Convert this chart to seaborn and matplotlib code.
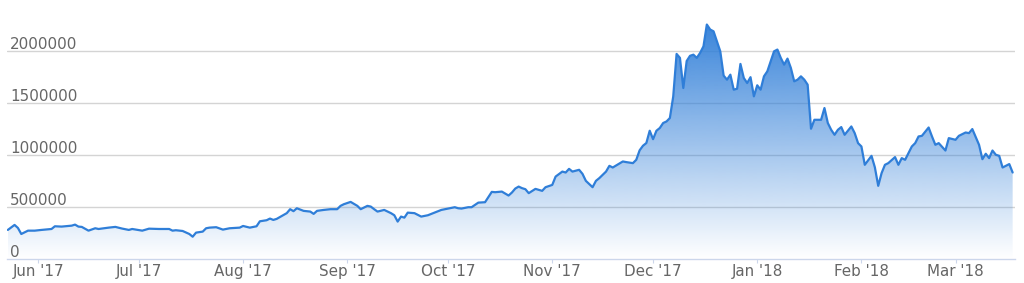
import numpy as np
import pandas as pd
import matplotlib
matplotlib.use("Agg")
import matplotlib.pyplot as plt
import matplotlib.dates as mdates
import matplotlib.transforms as mtransforms
from matplotlib.colors import to_rgb
import seaborn as sns

# ---------------- data ----------------
start_date = "2017-06-01"
day_offsets = [
    -9, -7, -6, -5, -3, -1, 1, 4, 5, 7, 10, 11, 12, 13, 15, 17, 18, 21, 23, 25,
    27, 28, 31, 33, 36, 39, 40, 41, 43, 45, 46, 47, 49, 50, 51, 53, 55, 57, 60, 61,
    63, 65, 66, 68, 69, 70, 71, 74, 75, 76, 77, 79, 81, 82, 83, 85, 87, 89, 90, 91,
    93, 94, 95, 96, 98, 99, 100, 101, 103, 105, 106, 107, 108, 109, 110, 112, 114, 116, 118, 120,
    122, 124, 125, 126, 128, 129, 131, 133, 135, 136, 138, 140, 141, 142, 143, 144, 145, 146, 148, 150,
    151, 153, 154, 156, 157, 158, 159, 161, 162, 163, 165, 166, 167, 169, 170, 171, 172, 174, 175, 177,
    178, 179, 180, 181, 182, 183, 184, 185, 186, 187, 188, 189, 190, 191, 192, 193, 194, 195, 196, 197,
    198, 199, 200, 201, 202, 203, 204, 205, 206, 207, 208, 209, 210, 211, 212, 213, 214, 215, 216, 217,
    219, 220, 221, 222, 223, 224, 225, 226, 227, 228, 229, 230, 231, 233, 234, 235, 236, 237, 238, 239,
    240, 242, 243, 244, 245, 246, 248, 249, 250, 251, 252, 253, 255, 256, 257, 258, 260, 261, 262, 263,
    265, 266, 267, 268, 270, 271, 273, 274, 276, 277, 278, 280, 281, 282, 283, 284, 285, 286, 287, 289,
    290,
]
prices = [
    279000, 327000, 298000, 240000, 272000, 272000, 279000, 288000, 314000, 311000,
    320000, 330000, 311000, 308000, 272000, 295000, 288000, 301000, 308000, 292000,
    279000, 288000, 272000, 291000, 288000, 288000, 272000, 276000, 269000, 240000,
    214000, 253000, 263000, 295000, 301000, 305000, 282000, 295000, 301000, 317000,
    301000, 314000, 362000, 372000, 388000, 375000, 385000, 440000, 478000, 459000,
    487000, 462000, 455000, 433000, 462000, 471000, 478000, 478000, 510000, 526000,
    548000, 529000, 510000, 478000, 510000, 503000, 478000, 455000, 471000, 440000,
    420000, 359000, 407000, 397000, 445000, 440000, 407000, 420000, 445000, 471000,
    484000, 497000, 487000, 484000, 497000, 497000, 541000, 545000, 644000, 641000,
    647000, 609000, 638000, 676000, 695000, 680000, 670000, 632000, 673000, 654000,
    689000, 711000, 791000, 839000, 830000, 865000, 839000, 856000, 817000, 750000,
    689000, 750000, 776000, 839000, 894000, 878000, 897000, 936000, 930000, 920000,
    952000, 1043000, 1087000, 1113000, 1231000, 1150000, 1231000, 1257000, 1305000, 1320000,
    1353000, 1560000, 1968000, 1930000, 1641000, 1900000, 1950000, 1961000, 1930000, 1978000,
    2041000, 2250000, 2202000, 2185000, 2089000, 1993000, 1760000, 1721000, 1769000, 1625000,
    1634000, 1872000, 1737000, 1689000, 1745000, 1561000, 1667000, 1625000, 1753000, 1801000,
    1993000, 2010000, 1930000, 1865000, 1923000, 1834000, 1705000, 1721000, 1753000, 1721000,
    1673000, 1250000, 1336000, 1336000, 1449000, 1305000, 1240000, 1192000, 1240000, 1266000,
    1192000, 1272000, 1208000, 1112000, 1080000, 904000, 990000, 880000, 702000, 824000,
    904000, 920000, 978000, 904000, 968000, 952000, 1080000, 1112000, 1176000, 1182000,
    1262000, 1176000, 1096000, 1112000, 1041000, 1160000, 1144000, 1182000, 1214000, 1208000,
    1247000, 1096000, 958000, 1010000, 968000, 1041000, 1000000, 990000, 878000, 911000,
    830000,
]
month_ticks = ["2017-06-01", "2017-07-01", "2017-08-01", "2017-09-01", "2017-10-01",
               "2017-11-01", "2017-12-01", "2018-01-01", "2018-02-01", "2018-03-01"]
month_labels = ["Jun '17", "Jul '17", "Aug '17", "Sep '17", "Oct '17",
                "Nov '17", "Dec '17", "Jan '18", "Feb '18", "Mar '18"]
y_ticks = [0, 500000, 1000000, 1500000, 2000000]
y_labels = ["0", "500000", "1000000", "1500000", "2000000"]

# ---------------- styling ----------------
line_color = "#2f7ed8"
grid_color = "#d4d4d4"
axis_color = "#ccd6eb"
text_color = "#666666"

sns.set_style("white")
plt.rcParams["font.family"] = ["DejaVu Sans"]

W, H, DPI = 1024, 283, 100
fig = plt.figure(figsize=(W / DPI, H / DPI), dpi=DPI)
fig.patch.set_facecolor("white")
left_px, right_px, zero_px = 7, 1015, 259
px_per_500k = 52.1
ax = fig.add_axes([left_px / W, (H - zero_px) / H, (right_px - left_px) / W, zero_px / H])
ax.set_facecolor("white")

dates = pd.Timestamp(start_date) + pd.to_timedelta(day_offsets, unit="D")
df = pd.DataFrame({"date": dates, "price": prices})

# line via seaborn
sns.lineplot(data=df, x="date", y="price", color=line_color, linewidth=1.6,
             ax=ax, zorder=3, legend=False)

# gradient area fill
x_num = mdates.date2num(df["date"])
poly = ax.fill_between(x_num, df["price"], 0, facecolor="none", edgecolor="none")
rgb = to_rgb(line_color)
grad = np.zeros((256, 1, 4))
grad[:, 0, :3] = rgb
grad[:, 0, 3] = np.linspace(0.95, 0.0, 256)
im = ax.imshow(grad, aspect="auto", origin="upper",
               extent=[x_num[0], x_num[-1], 0, max(prices)], zorder=2,
               interpolation="bilinear")
im.set_clip_path(poly.get_paths()[0], transform=ax.transData)

# limits
start = pd.Timestamp(start_date)
ax.set_xlim(mdates.date2num(start - pd.Timedelta(days=9.25)),
            mdates.date2num(start + pd.Timedelta(days=290.7)))
ymax = zero_px / px_per_500k * 500000
ax.set_ylim(0, ymax)

# grid lines
for v in y_ticks[1:]:
    ax.axhline(v, color=grid_color, linewidth=1.0, zorder=1)

# spines
for s in ["top", "right", "left"]:
    ax.spines[s].set_visible(False)
ax.spines["bottom"].set_color(axis_color)
ax.spines["bottom"].set_linewidth(1.0)
ax.spines["bottom"].set_zorder(4)

# x ticks
ax.set_xticks(mdates.date2num(pd.to_datetime(month_ticks)))
ax.set_xticklabels(month_labels)
ax.tick_params(axis="x", length=3.0, width=0.8, color=axis_color, pad=0.5,
               labelsize=10.9, labelcolor=text_color, direction="out")
ax.tick_params(axis="x", which="both", bottom=True)

# y labels inside, above grid lines
ax.set_yticks([])
ax.set_ylabel("")
ax.set_xlabel("")
trans = mtransforms.offset_copy(ax.get_yaxis_transform(), fig=fig, x=3, y=2, units="dots")
for v, lab in zip(y_ticks, y_labels):
    ax.text(0, v, lab, transform=trans, ha="left", va="baseline",
            fontsize=10.9, color=text_color, zorder=5)

fig.savefig("out.png", dpi=DPI, facecolor="white")
